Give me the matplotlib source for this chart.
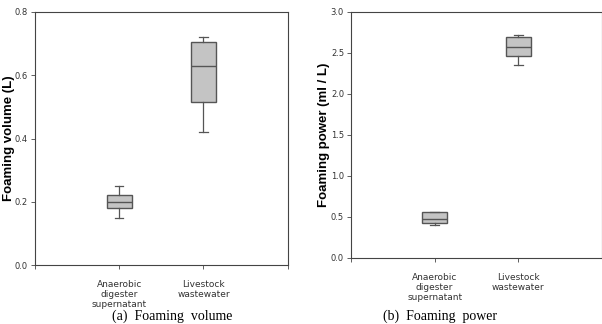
import matplotlib.pyplot as plt

# --- data ---
categories = ["Anaerobic\ndigester\nsupernatant", "Livestock\nwastewater"]

# foaming volume (L): whisker low, q1, median, q3, whisker high
vol_low = [0.15, 0.42]
vol_q1 = [0.18, 0.515]
vol_med = [0.20, 0.63]
vol_q3 = [0.22, 0.705]
vol_high = [0.25, 0.72]

# foaming power (ml / L)
pow_low = [0.40, 2.35]
pow_q1 = [0.42, 2.46]
pow_med = [0.47, 2.57]
pow_q3 = [0.555, 2.69]
pow_high = [0.565, 2.72]

narrow = ["Liberation Sans Narrow", "DejaVu Sans Condensed", "DejaVu Sans"]


def make_stats(low, q1, med, q3, high):
    return [dict(whislo=a, q1=b, med=c, q3=d, whishi=e, fliers=[])
            for a, b, c, d, e in zip(low, q1, med, q3, high)]


def draw(ax, stats, ylim, yticks, ylabel, label_x):
    ax.bxp(stats, positions=[1, 2], widths=0.3, patch_artist=True,
           showfliers=False,
           boxprops=dict(facecolor="#c4c4c4", edgecolor="#555555", linewidth=1.0),
           medianprops=dict(color="#555555", linewidth=1.0),
           whiskerprops=dict(color="#555555", linewidth=0.9),
           capprops=dict(color="#555555", linewidth=0.9),
           capwidths=0.1)
    ax.set_xlim(0, 3)
    ax.set_ylim(*ylim)
    ax.set_xticks([0, 1, 2, 3])
    ax.set_xticklabels(["", categories[0], categories[1], ""],
                       fontsize=6.5, family=narrow, color="#333333",
                       linespacing=1.1)
    ax.set_yticks(yticks)
    ax.set_yticklabels([f"{t:.1f}" for t in yticks], fontsize=6,
                       family=narrow, color="#333333")
    ax.tick_params(length=3, width=0.6, color="#444444", pad=2)
    ax.tick_params(axis="x", length=3, pad=8)
    for s in ax.spines.values():
        s.set_color("#444444")
        s.set_linewidth(0.8)
    ax.set_ylabel(ylabel, fontsize=9.5, fontweight="bold",
                  family="Liberation Sans")
    ax.yaxis.set_label_coords(label_x, 0.5)


fig = plt.figure(figsize=(6.02, 3.24), dpi=100)
ax1 = fig.add_axes([0.058, 0.182, 0.420, 0.781])
ax2 = fig.add_axes([0.583, 0.204, 0.417, 0.759])

draw(ax1, make_stats(vol_low, vol_q1, vol_med, vol_q3, vol_high),
     (0, 0.8), [0.0, 0.2, 0.4, 0.6, 0.8], "Foaming volume (L)", -0.078)
draw(ax2, make_stats(pow_low, pow_q1, pow_med, pow_q3, pow_high),
     (0, 3.0), [0.0, 0.5, 1.0, 1.5, 2.0, 2.5, 3.0], "Foaming power (ml / L)", -0.085)

fig.text(0.286, 0.004, "(a)  Foaming  volume", ha="center", va="bottom",
         fontsize=10, family="Liberation Serif")
fig.text(0.731, 0.004, "(b)  Foaming  power", ha="center", va="bottom",
         fontsize=10, family="Liberation Serif")

fig.savefig("out.png", dpi=100)
